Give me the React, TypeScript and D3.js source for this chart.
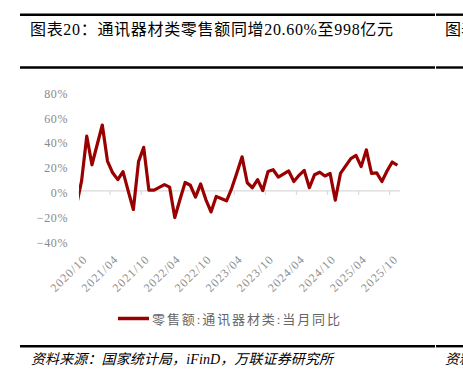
import React from "react";
import * as d3 from "d3";

const months: string[] = [
  "2020/09", "2020/10", "2020/11", "2020/12",
  "2021/02", "2021/03", "2021/04", "2021/05", "2021/06", "2021/07", "2021/08", "2021/09", "2021/10", "2021/11", "2021/12",
  "2022/02", "2022/03", "2022/04", "2022/05", "2022/06", "2022/07", "2022/08", "2022/09", "2022/10", "2022/11", "2022/12",
  "2023/02", "2023/03", "2023/04", "2023/05", "2023/06", "2023/07", "2023/08", "2023/09", "2023/10", "2023/11", "2023/12",
  "2024/02", "2024/03", "2024/04", "2024/05", "2024/06", "2024/07", "2024/08", "2024/09", "2024/10", "2024/11", "2024/12",
  "2025/02", "2025/03", "2025/04", "2025/05", "2025/06", "2025/07", "2025/08", "2025/09", "2025/10", "2025/11",
];

const values: number[] = [
  -12, 8, 44, 21,
  53, 24, 14.5, 9, 15.5, 0, -15, 23.5, 35, 0.5, 0.5,
  5, 3, -21.5, -7, 6.7, 4.5, -5, 5.6, -7, -17, -4.5,
  -8, 2, 14.6, 27.4, 6.5, 2.5, 9, 0.3, 15.5, 17, 11,
  16, 7.5, 12.5, 16.5, 2.5, 13, 15, 12, 14, -7.5, 14,
  26, 28.5, 19.5, 33, 14, 14.5, 7.5, 16, 23.2, 20.6,
];

const xTickLabels: string[] = [
  "2020/10", "2021/04", "2021/10", "2022/04", "2022/10", "2023/04",
  "2023/10", "2024/04", "2024/10", "2025/04", "2025/10",
];

const yTicks: number[] = [80, 60, 40, 20, 0, -20, -40];

const titleText = "图表20：通讯器材类零售额同增20.60%至998亿元";
const rightTitleText = "图表";
const legendText = "零售额:通讯器材类:当月同比";
const sourceText = "资料来源：国家统计局，iFinD，万联证券研究所";
const rightSourceText = "资料";

const FONT = "'Liberation Serif', 'Noto Sans CJK SC', serif";
const RED = "#990000";

function monthIndex(s: string): number {
  const [y, m] = s.split("/").map(Number);
  return (y - 2020) * 12 + (m - 10);
}

export default function App() {
  const x = d3.scaleLinear().domain([0, 62]).range([79, 400]);
  const y = d3.scaleLinear().domain([-40, 80]).range([240.5, 91.5]);

  const pts = months.map((m, i) => ({ xi: monthIndex(m) + 0.5, v: values[i] }));
  const line = d3
    .line<{ xi: number; v: number }>()
    .x((d) => x(d.xi))
    .y((d) => y(d.v));

  return (
    <svg
      width={463}
      height={377}
      style={{ position: "fixed", left: 0, top: 0, background: "#fff" }}
      fontFamily={FONT}
    >
      <defs>
        <clipPath id="plotclip">
          <rect x={x(0)} y={60} width={x(62) - x(0) + 2} height={220} />
        </clipPath>
      </defs>

      {/* header rules */}
      <line x1={20} x2={435} y1={14.7} y2={14.7} stroke="#000" strokeWidth={2.4} />
      <line x1={436} x2={463} y1={14.7} y2={14.7} stroke="#000" strokeWidth={2.4} />
      <line x1={20} x2={435} y1={67.5} y2={67.5} stroke="#000" strokeWidth={2.4} />
      <line x1={436} x2={463} y1={67.5} y2={67.5} stroke="#000" strokeWidth={2.4} />

      <text x={30} y={35} fontSize={16} fill="#000" textLength={363} lengthAdjust="spacing">
        {titleText}
      </text>
      <text x={445} y={35} fontSize={16} fill="#000">
        {rightTitleText}
      </text>

      {/* y labels */}
      {yTicks.map((t) => (
        <text
          key={t}
          x={68}
          y={y(t) + 2}
          dy="0.35em"
          textAnchor="end"
          fontSize={12}
          fill="#8a8a8a"
          letterSpacing={0.6}
        >
          {t < 0 ? `\u2212${Math.abs(t)}%` : `${t}%`}
        </text>
      ))}

      {/* zero axis */}
      <line x1={x(0)} x2={x(62)} y1={y(0)} y2={y(0)} stroke="#d9d9d9" strokeWidth={1.2} />
      {xTickLabels.map((lbl) => {
        const tx = x(monthIndex(lbl));
        return (
          <line key={"t" + lbl} x1={tx} x2={tx} y1={y(0)} y2={y(0) + 4} stroke="#d9d9d9" strokeWidth={1.2} />
        );
      })}

      {/* x labels */}
      {xTickLabels.map((lbl) => {
        const tx = x(monthIndex(lbl));
        return (
          <text
            key={lbl}
            transform={`translate(${tx + 6},${257}) rotate(-45)`}
            textAnchor="end"
            dy="0.35em"
            fontSize={12}
            fill="#8f8f8f"
            letterSpacing={1}
          >
            {lbl}
          </text>
        );
      })}

      {/* series */}
      <g clipPath="url(#plotclip)">
        <path d={line(pts) || ""} fill="none" stroke={RED} strokeWidth={3.2} strokeLinejoin="round" />
      </g>

      {/* legend */}
      <line x1={118} x2={149} y1={318.5} y2={318.5} stroke={RED} strokeWidth={3.5} />
      <text x={152} y={324} fontSize={13} fill="#666" textLength={188} lengthAdjust="spacing">
        {legendText}
      </text>

      {/* footer */}
      <line x1={20} x2={435} y1={346.2} y2={346.2} stroke="#000" strokeWidth={2.4} />
      <line x1={436} x2={463} y1={346.2} y2={346.2} stroke="#000" strokeWidth={2.4} />
      <text x={31} y={364} fontSize={14} fontStyle="italic" fill="#000" textLength={302} lengthAdjust="spacing">
        {sourceText}
      </text>
      <text x={445} y={364} fontSize={14} fontStyle="italic" fill="#000">
        {rightSourceText}
      </text>
    </svg>
  );
}
